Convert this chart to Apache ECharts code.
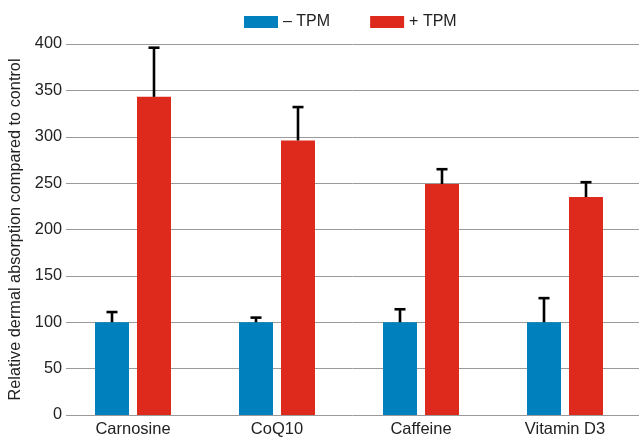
<!DOCTYPE html>
<html>
<head>
<meta charset="utf-8">
<script src="https://cdn.jsdelivr.net/npm/echarts@6/dist/echarts.min.js"></script>
<style>
    html, body { margin: 0; padding: 0; background: #fff; }
    #cn { width: 639px; height: 438px; }
</style>
</head>
<body>
<div id="cn"></div>
<script>
'use strict';

const arrCategory = ['Carnosine', 'CoQ10', 'Caffeine', 'Vitamin D3'];
const arrMinus = [100, 100, 100, 100]; // – TPM
const arrPlus = [343, 296, 249, 235]; // + TPM
const arrMinusErr = [11, 5, 14, 26];
const arrPlusErr = [53, 36, 16, 16];
const arrTickY = [0, 50, 100, 150, 200, 250, 300, 350, 400];

const strFont = '"Liberation Sans", Arial, sans-serif';
const BAR_W = 34;
const BAR_GAP = 8;

// エラーバー（上側のみ）
const errRender = (side) => (params, api) => {
    const off = side * (BAR_W + BAR_GAP) / 2;
    const p0 = api.coord([api.value(0), api.value(1)]);
    const p1 = api.coord([api.value(0), api.value(2)]);
    const x = p0[0] + off;
    const style = { stroke: '#000', lineWidth: 2.6 };
    return {
        type: 'group',
        children: [
            { type: 'line', shape: { x1: x, y1: p0[1], x2: x, y2: p1[1] }, style: style },
            { type: 'line', shape: { x1: x - 5.5, y1: p1[1], x2: x + 5.5, y2: p1[1] }, style: style }
        ]
    };
};

const chart = echarts.init(document.getElementById('cn'));

const option = {
    animation: false,
    textStyle: { fontFamily: strFont },
    legend: {
        data: ['– TPM', '+ TPM'],
        left: 239,
        top: 9,
        itemWidth: 34,
        itemHeight: 12,
        itemGap: 40,
        textStyle: { fontSize: 16, color: '#222' },
        icon: 'rect'
    },
    grid: [
        { left: 66, right: 0, top: 44, bottom: 23, outerBoundsMode: 'none' }, // 目盛・補助線
        { left: 61, right: 2, top: 44, bottom: 23, outerBoundsMode: 'none' }  // 棒
    ],
    xAxis: [
        {
            type: 'category',
            data: arrCategory,
            gridIndex: 0,
            axisLine: { show: false },
            axisTick: { show: false },
            axisLabel: { show: false }
        },
        {
            type: 'category',
            data: arrCategory,
            gridIndex: 1,
            axisLine: { show: false },
            axisTick: { show: false },
            axisLabel: { fontSize: 16.5, color: '#222', margin: 6 }
        }
    ],
    yAxis: [
        {
            type: 'value',
            gridIndex: 0,
            min: arrTickY[0],
            max: arrTickY[arrTickY.length - 1],
            interval: 50,
            name: 'Relative dermal absorption compared to control',
            nameLocation: 'middle',
            nameGap: 41,
            nameTextStyle: { fontSize: 16.3, color: '#222' },
            axisLine: { show: false },
            axisTick: { show: false },
            axisLabel: { fontSize: 16.3, color: '#222', margin: 4 },
            splitLine: { lineStyle: { color: '#9a9a9a', width: 1 } }
        },
        {
            type: 'value',
            gridIndex: 1,
            min: arrTickY[0],
            max: arrTickY[arrTickY.length - 1],
            interval: 50,
            axisLine: { show: false },
            axisTick: { show: false },
            axisLabel: { show: false },
            splitLine: { show: false }
        }
    ],
    series: [
        {
            name: '– TPM',
            type: 'bar',
            xAxisIndex: 1,
            yAxisIndex: 1,
            barWidth: BAR_W,
            barGap: (BAR_GAP / BAR_W * 100) + '%',
            itemStyle: { color: '#0080bd' },
            data: arrMinus
        },
        {
            name: '+ TPM',
            type: 'bar',
            xAxisIndex: 1,
            yAxisIndex: 1,
            barWidth: BAR_W,
            itemStyle: { color: '#de2a1c' },
            data: arrPlus
        },
        {
            name: 'errMinus',
            type: 'custom',
            xAxisIndex: 1,
            yAxisIndex: 1,
            renderItem: errRender(-1),
            z: 3,
            data: arrMinus.map((v, i) => [i, v, v + arrMinusErr[i]])
        },
        {
            name: 'errPlus',
            type: 'custom',
            xAxisIndex: 1,
            yAxisIndex: 1,
            renderItem: errRender(1),
            z: 3,
            data: arrPlus.map((v, i) => [i, v, v + arrPlusErr[i]])
        }
    ]
};

chart.setOption(option);
</script>
</body>
</html>
